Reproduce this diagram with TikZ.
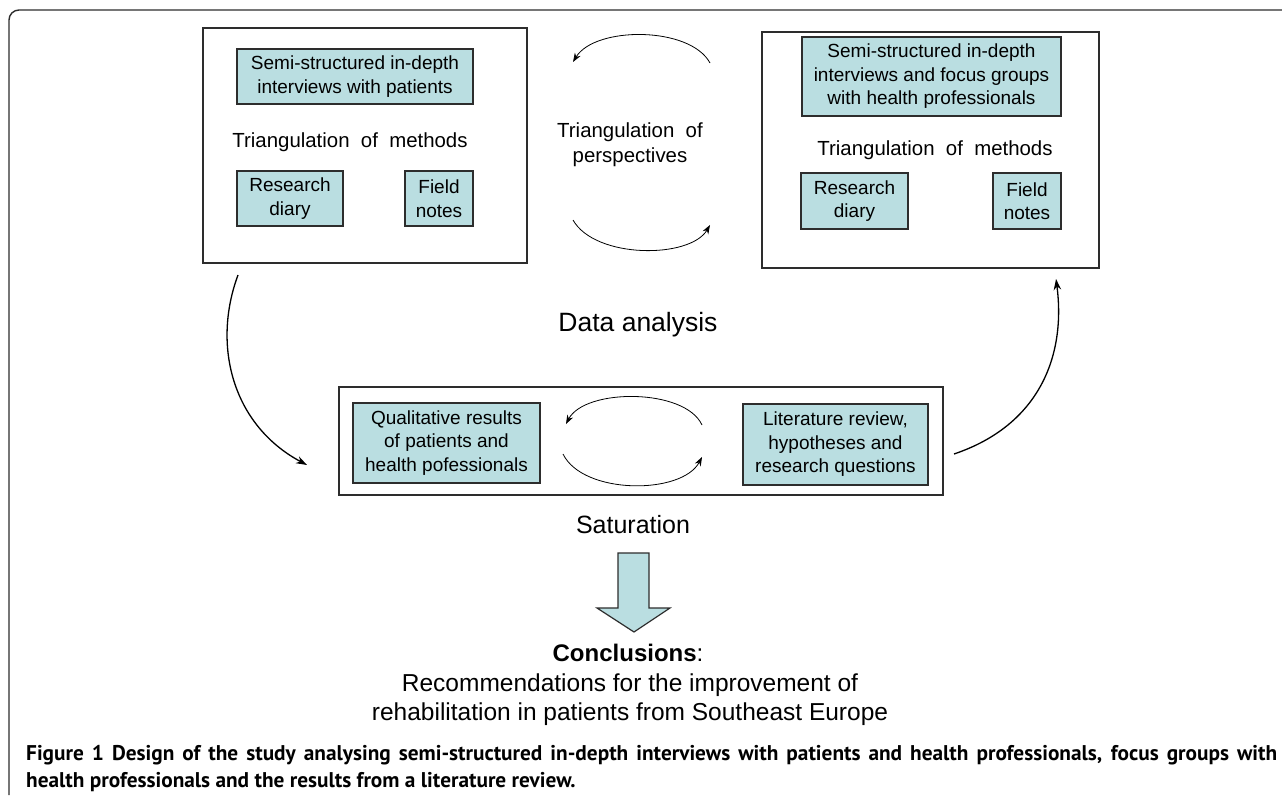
\documentclass[tikz,border=0pt]{standalone}
\usepackage{fontspec}
\setmainfont{Liberation Sans}
\newfontfamily\capfont{PT Sans}
\usetikzlibrary{arrows.meta}
\definecolor{boxblue}{RGB}{186,222,225}
\definecolor{edgegray}{RGB}{45,45,45}
\begin{document}
\begin{tikzpicture}[x=1pt,y=-1pt,
 bluebox/.style={draw=edgegray,fill=boxblue,line width=1.3pt,inner sep=0pt,align=center,font=\fontsize{19}{23.5}\selectfont},
 outerbox/.style={draw=edgegray,line width=1.4pt,inner sep=0pt},
 lbl/.style={inner sep=0pt,align=center,anchor=base},
 thinarc/.style={line width=0.8pt,-{Stealth[length=9pt,width=6.5pt]}},
 bigarc/.style={line width=1.3pt,-{Stealth[length=11pt,width=7.5pt]}}]
\useasboundingbox (0,0) rectangle (1282,795);
\fill[white] (0,0) rectangle (1282,795);
% frame
\draw[edgegray,line width=1.4pt,rounded corners=10pt] (1282,10) -- (9,10) -- (9,795);

% left group
\node[outerbox,minimum width=324pt,minimum height=235pt] (L) at (365,145.5) {};
\node[bluebox,minimum width=236pt,minimum height=55pt] (L1) at (355,76.5) {Semi-structured in-depth\\interviews with patients};
\node[lbl,font=\fontsize{20.4}{24}\selectfont] (Ltri) at (350,147) {Triangulation\ \ of\ \ methods};
\node[bluebox,minimum width=106pt,minimum height=55pt] (Lrd) at (290,198.5) {Research\\diary};
\node[bluebox,minimum width=68pt,minimum height=55pt] (Lfn) at (439,198.5) {Field\\notes};

% right group
\node[outerbox,minimum width=337pt,minimum height=236pt] (R) at (930.5,150) {};
\node[bluebox,minimum width=259pt,minimum height=79pt] (R1) at (931.5,76.5) {Semi-structured in-depth\\interviews and focus groups\\with health professionals};
\node[lbl,font=\fontsize{20.4}{24}\selectfont] (Rtri) at (935,155) {Triangulation\ \ of\ \ methods};
\node[bluebox,minimum width=107pt,minimum height=56pt] (Rrd) at (854.5,201) {Research\\diary};
\node[bluebox,minimum width=68pt,minimum height=56pt] (Rfn) at (1027,201) {Field\\notes};

% perspectives
\node[lbl,font=\fontsize{20.4}{25}\selectfont] (persp) at (630,162) {Triangulation\ \ of\\perspectives};
\coordinate (pa1) at (710,63);
\coordinate (pa2) at (573,62);
\coordinate (pb1) at (573,220);
\coordinate (pb2) at (710,225);
\draw[thinarc] (pa1) .. controls (690,26) and (595,26) .. (pa2);
\draw[thinarc] (pb1) .. controls (595,259) and (690,259) .. (pb2);

% data analysis
\node[lbl,font=\fontsize{26.5}{30}\selectfont] (data) at (638,331) {Data analysis};

% bottom group
\node[outerbox,minimum width=604pt,minimum height=108pt] (B) at (641,441) {};
\node[bluebox,minimum width=187pt,minimum height=80pt] (Q) at (446.5,443) {Qualitative results\\of patients and\\health pofessionals};
\node[bluebox,minimum width=185pt,minimum height=81pt] (Lit) at (835.5,444.5) {Literature review,\\hypotheses and\\research questions};
\coordinate (ba1) at (702,425);
\coordinate (ba2) at (566,424);
\coordinate (bb1) at (563,454);
\coordinate (bb2) at (702,457);
\draw[thinarc] (ba1) .. controls (685,388) and (585,388) .. (ba2);
\draw[thinarc] (bb1) .. controls (583,495) and (682,495) .. (bb2);

% side arrows
\coordinate (la) at (238,275);
\coordinate (lb) at (307,465);
\coordinate (ra) at (954,454);
\coordinate (rb) at (1056,279);
\draw[bigarc] (la) .. controls (212,345) and (232,425) .. (lb);
\draw[bigarc] (ra) .. controls (1040,425) and (1066,355) .. (rb);

% saturation
\node[lbl,font=\fontsize{25}{30}\selectfont] (sat) at (633,533) {Saturation};
\draw[edgegray,fill=boxblue,line width=1.2pt] (618,553) -- (649,553) -- (649,608) -- (670,608) -- (634,632) -- (597,608) -- (618,608) -- cycle;

% conclusions
\node[lbl,font=\fontsize{24}{29}\selectfont] (concl) at (628,661) {\textbf{Conclusions}:};
\node[lbl,font=\fontsize{24.5}{29}\selectfont] (rec) at (630,720) {Recommendations for the improvement of\\rehabilitation in patients from Southeast Europe};

% caption
\node[inner sep=0pt,anchor=base west,font=\capfont\bfseries\fontsize{21.3}{27}\selectfont] (cap1) at (26,760)
 {\hbox to 1251pt{Figure\ 1 Design of the study analysing semi-structured in-depth interviews with patients and health professionals, focus groups with}};
\node[inner sep=0pt,anchor=base west,font=\capfont\bfseries\fontsize{21.3}{27}\selectfont] (cap2) at (26,787)
 {health professionals and the results from a literature review.};
\end{tikzpicture}
\end{document}
